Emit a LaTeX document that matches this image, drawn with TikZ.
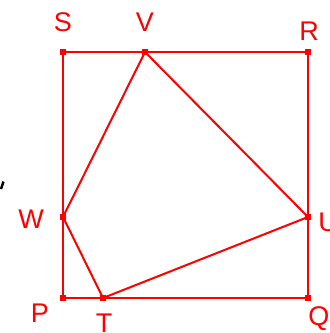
\documentclass[tikz,border=0pt]{standalone}
\usepackage{fontspec}
\setmainfont{Liberation Sans}
\begin{document}
\begin{tikzpicture}[x=1pt,y=-1pt,
  edge/.style={draw=red,line width=2pt},
  pt/.style={fill=red,minimum size=6pt,inner sep=0pt,outer sep=0pt,rectangle},
  lbl/.style={text=red,font=\fontsize{27}{30}\selectfont,inner sep=0pt}]
\useasboundingbox (0,0) rectangle (330,333);
\node[pt] (S) at (63,52) {};
\node[pt] (V) at (145,52) {};
\node[pt] (R) at (308,52) {};
\node[pt] (U) at (308,217) {};
\node[pt] (Q) at (308,298) {};
\node[pt] (T) at (103,298) {};
\node[pt] (P) at (63,298) {};
\node[pt] (W) at (63,217) {};
\draw[edge] (S.center) -- (V.center) -- (R.center) -- (U.center) -- (Q.center) -- (T.center) -- (P.center) -- (W.center) -- (S.center);
\draw[edge] (V.center) -- (U.center) -- (T.center) -- (W.center) -- (V.center);
\node[lbl] (lS) at (63,22) {S};
\node[lbl] (lV) at (145,22) {V};
\node[lbl] (lR) at (309,31) {R};
\node[lbl] (lU) at (328,222) {U};
\node[lbl] (lQ) at (319,319) {Q};
\node[lbl] (lT) at (104,323) {T};
\node[lbl] (lP) at (40,313) {P};
\node[lbl] (lW) at (31,219) {W};
\coordinate (m1) at (3.5,181.5);
\coordinate (m2) at (1,189);
\draw[black,line width=2.5pt] (m1) -- (m2);
\end{tikzpicture}
\end{document}
